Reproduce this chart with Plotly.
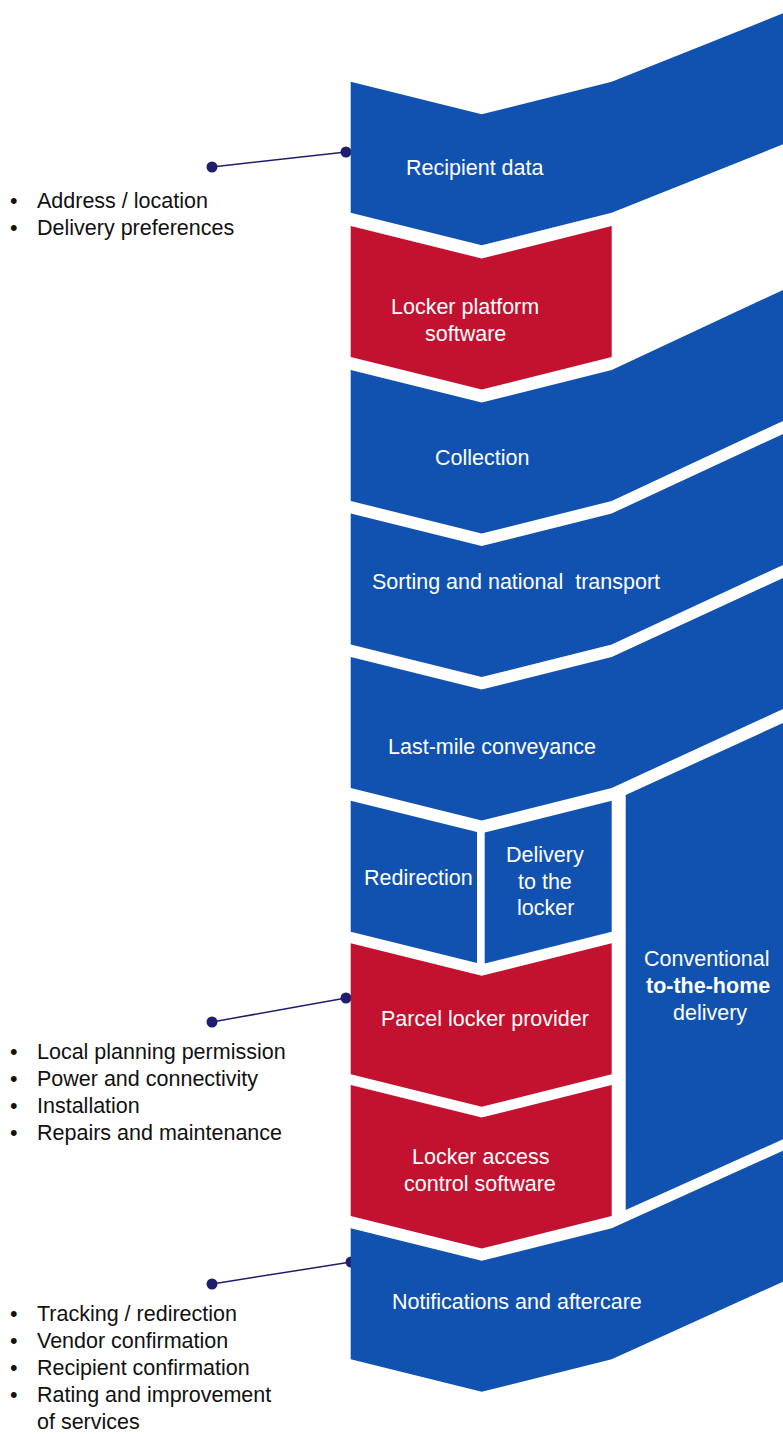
import plotly.graph_objects as go

# ---------------- data ----------------
stage_lines = [
    ["Recipient data"],
    ["Locker platform", "software"],
    ["Collection"],
    ["Sorting and national  transport"],
    ["Last-mile conveyance"],
    ["Parcel locker provider"],
    ["Locker access", "control software"],
    ["Notifications and aftercare"],
]
stage_kind = ["blue", "red", "blue", "blue", "blue", "red", "red", "blue"]
split_left_lines = ["Redirection"]
split_right_lines = ["Delivery", "to the", "locker"]
home_lines = ["Conventional", "<b>to-the-home</b>", "delivery"]

bullets_1 = ["Address / location", "Delivery preferences"]
bullets_2 = ["Local planning permission", "Power and connectivity", "Installation",
             "Repairs and maintenance"]
bullets_3 = ["Tracking / redirection", "Vendor confirmation", "Recipient confirmation",
             "Rating and improvement", "of services"]
bullets_3_marker = [True, True, True, True, False]

# ---------------- geometry / style ----------------
W, H = 783, 1434
COLORS = {"blue": "#1152B0", "red": "#C3122F"}
NAVY = "#1F1D6E"
L, M, R, XR = 350.7, 481.7, 611.7, 783
NOTCH = 32.5
BAND = 131
stage_top = [81.7, 226, 370, 513.5, 657, 943.3, 1085, 1228.3]
stage_tail = [13.3, None, 290, 434, 578, None, None, 1150.7]
stage_text_xy = [(474.5, [168]), (465, [307, 334]), (482, [458]), (515.5, [582]),
                 (491.5, [747]), (484.5, [1019]), (480, [1157, 1184]), (516.5, [1302])]
split_top = 800.7
split_gap_l, split_gap_r = 477, 484.7
home_poly_x = [625.7, 783, 783, 625.7]
home_poly_y = [795, 723, 1139.3, 1210]

FONT = "Liberation Sans"
FS = 21.5

fig = go.Figure()

# connectors (under the shapes)
connectors = [((212, 167), (346, 152)), ((212, 1022), (346, 998)), ((212, 1284), (351, 1262))]
for (x0, y0), (x1, y1) in connectors:
    fig.add_trace(go.Scatter(x=[x0, x1], y=[y0, y1], mode="lines+markers",
                             line=dict(color=NAVY, width=1.5),
                             marker=dict(color=NAVY, size=11),
                             hoverinfo="skip", showlegend=False))


def add_poly(xs, ys, color):
    fig.add_trace(go.Scatter(x=xs + [xs[0]], y=ys + [ys[0]], mode="lines",
                             fill="toself", fillcolor=color,
                             line=dict(width=0, color=color),
                             hoverinfo="skip", showlegend=False))


for top, tail, kind in zip(stage_top, stage_tail, stage_kind):
    c = COLORS[kind]
    if tail is None:
        xs = [L, M, R, R, M, L]
        ys = [top, top + NOTCH, top, top + BAND, top + BAND + NOTCH, top + BAND]
    else:
        xs = [L, M, R, XR, XR, R, M, L]
        ys = [top, top + NOTCH, top, tail, tail + BAND, top + BAND,
              top + BAND + NOTCH, top + BAND]
    add_poly(xs, ys, c)

# split row
sl = (NOTCH / (M - L)) * (split_gap_l - L)
add_poly([L, split_gap_l, split_gap_l, L],
         [split_top, split_top + sl, split_top + sl + BAND, split_top + BAND], COLORS["blue"])
sr = (NOTCH / (R - M)) * (R - split_gap_r)
add_poly([split_gap_r, R, R, split_gap_r],
         [split_top + sr, split_top, split_top + BAND, split_top + sr + BAND], COLORS["blue"])

# conventional delivery column
add_poly(home_poly_x, home_poly_y, COLORS["blue"])

ann = []


def txt(x, y, s, color="white", anchor="center"):
    ann.append(dict(x=x, y=y, text=s, showarrow=False, xanchor=anchor, yanchor="middle",
                    font=dict(family=FONT, size=FS, color=color)))


for lines, (cx, ys) in zip(stage_lines, stage_text_xy):
    for s, y in zip(lines, ys):
        txt(cx, y, s)
for s, y in zip(split_left_lines, [878]):
    txt(418, y, s)
for s, y in zip(split_right_lines, [855, 881.5, 908]):
    txt(545, y, s)
for s, y, x in zip(home_lines, [959, 986, 1013], [707, 708, 710]):
    txt(x, y, s)


def bullet_list(items, y0, markers=None):
    for i, s in enumerate(items):
        y = y0 + 27 * i
        if markers is None or markers[i]:
            txt(14, y, "•", color="#111111")
        txt(35, y, s, color="#111111", anchor="left")


bullet_list(bullets_1, 201)
bullet_list(bullets_2, 1052)
bullet_list(bullets_3, 1314, bullets_3_marker)

fig.update_layout(
    width=W, height=H, margin=dict(l=0, r=0, t=0, b=0),
    paper_bgcolor="white", plot_bgcolor="white",
    xaxis=dict(range=[0, W], visible=False, fixedrange=True),
    yaxis=dict(range=[H, 0], visible=False, fixedrange=True),
    annotations=ann, showlegend=False,
)
fig.write_html("out.html", config={"displayModeBar": False},
               post_script="document.body.style.margin='0px';document.body.style.overflow='hidden';")
